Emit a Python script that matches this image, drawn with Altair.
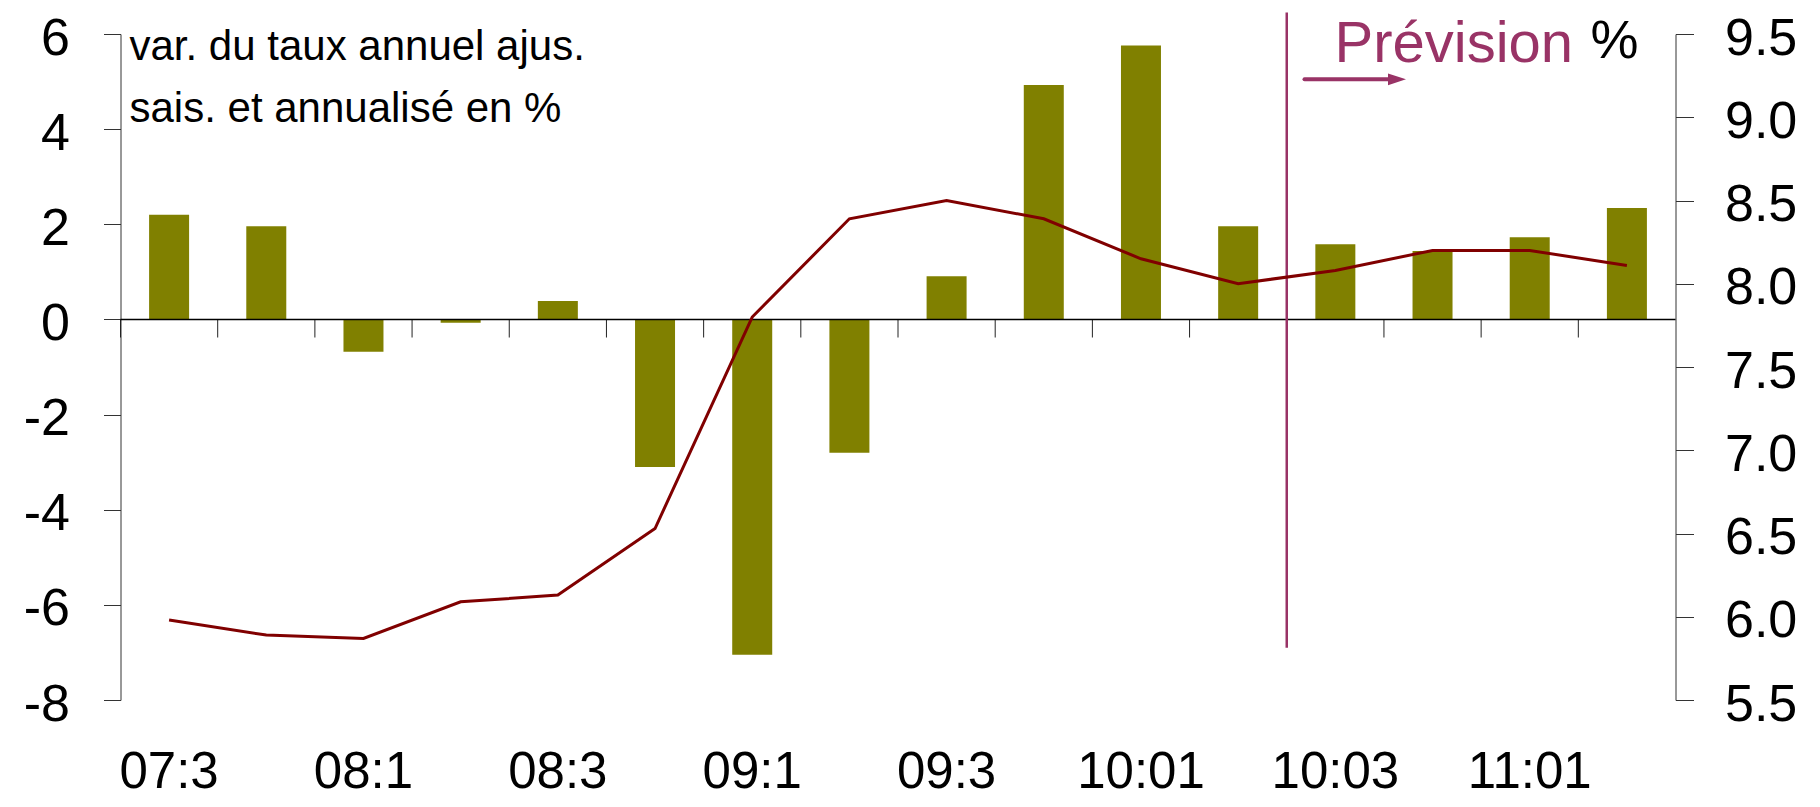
import altair as alt
import pandas as pd

# ---- data ----
quarters = ["07:3", "07:4", "08:1", "08:2", "08:3", "08:4", "09:1", "09:2",
            "09:3", "09:4", "10:01", "10:02", "10:03", "10:04", "11:01", "11:02"]
shown_labels = ["07:3", "08:1", "08:3", "09:1", "09:3", "10:01", "10:03", "11:01"]
bar_values = [2.20, 1.96, -0.68, -0.07, 0.39, -3.10, -7.05, -2.80,
              0.91, 4.93, 5.76, 1.96, 1.58, 1.44, 1.73, 2.34]
line_values = [5.98, 5.89, 5.87, 6.09, 6.13, 6.53, 7.80, 8.39,
               8.50, 8.39, 8.15, 8.00, 8.08, 8.20, 8.20, 8.11]
left_ticks = [-8, -6, -4, -2, 0, 2, 4, 6]
right_ticks = [5.5, 6.0, 6.5, 7.0, 7.5, 8.0, 8.5, 9.0, 9.5]
forecast_start = ["10:03"]
note_lines = ["var. du taux annuel ajus.", "sais. et annualisé en %"]
forecast_label = "Prévision"
unit_label = "%"

df = pd.DataFrame({"q": quarters, "bar": bar_values, "rate": line_values})
labels_df = pd.DataFrame({"q": shown_labels})
one = pd.DataFrame({"k": [0]})

W, H = 1555, 666
FONT = "Liberation Sans"
OLIVE = "#808000"
MAROON = "#800000"
PLUM = "#993366"


def xscale():
    return alt.Scale(domain=quarters, paddingInner=0, paddingOuter=0)


def yleft():
    return alt.Scale(domain=[-8, 6], nice=False, zero=False)


bars = alt.Chart(df).mark_bar(color=OLIVE, size=40).encode(
    x=alt.X("q:N", scale=xscale(), sort=quarters, axis=None),
    y=alt.Y("bar:Q", scale=yleft(), title=None,
            axis=alt.Axis(orient="left", values=left_ticks, labelExpr="'' + datum.value",
                          tickSize=17, labelPadding=34, labelOffset=4)),
    y2=alt.Y2Datum(0),
)

zero_ticks = alt.Chart(df).mark_rule(color="#222", strokeWidth=1).encode(
    x=alt.X("q:N", scale=xscale(), sort=quarters, bandPosition=0, axis=None),
    y=alt.YDatum(0, scale=yleft(), axis=None),
    y2=alt.Y2Datum(-0.38),
)

zero_line = alt.Chart(one).mark_rule(color="black", strokeWidth=1.5).encode(
    y=alt.YDatum(0, scale=yleft(), axis=None),
    x=alt.value(0),
    x2=alt.value(W),
)

forecast_rule = alt.Chart(pd.DataFrame({"q": forecast_start})).mark_rule(
    color=PLUM, strokeWidth=2.5).encode(
    x=alt.X("q:N", scale=xscale(), sort=quarters, bandPosition=0, axis=None),
    y=alt.YDatum(6.45, scale=yleft(), axis=None),
    y2=alt.Y2Datum(-6.9),
)

x_labels = alt.Chart(labels_df).mark_text(baseline="alphabetic", align="center",
                                          fontSize=51, font=FONT, color="black").encode(
    x=alt.X("q:N", scale=xscale(), sort=quarters, axis=None),
    y=alt.value(H + 88),
    text="q:N",
)

line = alt.Chart(df).mark_line(color=MAROON, strokeWidth=3).encode(
    x=alt.X("q:N", scale=xscale(), sort=quarters, axis=None),
    y=alt.Y("rate:Q", scale=alt.Scale(domain=[5.5, 9.5], nice=False, zero=False), title=None,
            axis=alt.Axis(orient="right", values=right_ticks, format=".1f", tickSize=18,
                          labelPadding=31, labelOffset=4)),
)

note = alt.Chart(one).mark_text(align="left", baseline="alphabetic", fontSize=42,
                                lineHeight=62, font=FONT, color="black").encode(
    x=alt.value(9), y=alt.value(26), text=alt.value(note_lines))

prev = alt.Chart(one).mark_text(align="left", baseline="alphabetic", fontSize=58,
                                font=FONT, color=PLUM).encode(
    x=alt.value(1214), y=alt.value(28), text=alt.value(forecast_label))

pct = alt.Chart(one).mark_text(align="left", baseline="alphabetic", fontSize=54,
                               font=FONT, color="black").encode(
    x=alt.value(1470), y=alt.value(24), text=alt.value(unit_label))

arrow_shaft = alt.Chart(one).mark_rule(color=PLUM, strokeWidth=4, strokeCap="round").encode(
    x=alt.value(1184), x2=alt.value(1268), y=alt.value(45.3))

arrow_head = alt.Chart(one).mark_point(shape="M-1,-0.65L1,0L-1,0.65Z", filled=True,
                                       size=324, opacity=1, color=PLUM, strokeWidth=0).encode(
    x=alt.value(1276.5), y=alt.value(45.3))

chart = alt.layer(
    bars, zero_ticks, zero_line, forecast_rule, x_labels, note, prev, pct,
    arrow_shaft, arrow_head, line
).resolve_scale(y="independent").properties(
    width=W, height=H,
    padding={"left": 112.5, "top": 26, "right": 136, "bottom": 99},
    autosize=alt.AutoSizeParams(type="none"),
).configure_view(stroke=None).configure_axis(
    grid=False, domainColor="#333", tickColor="#333", domainWidth=1, tickWidth=1,
    labelFont=FONT, labelFontSize=52, labelColor="black",
)

chart.save("out.html", embed_options={"renderer": "svg", "actions": False})
